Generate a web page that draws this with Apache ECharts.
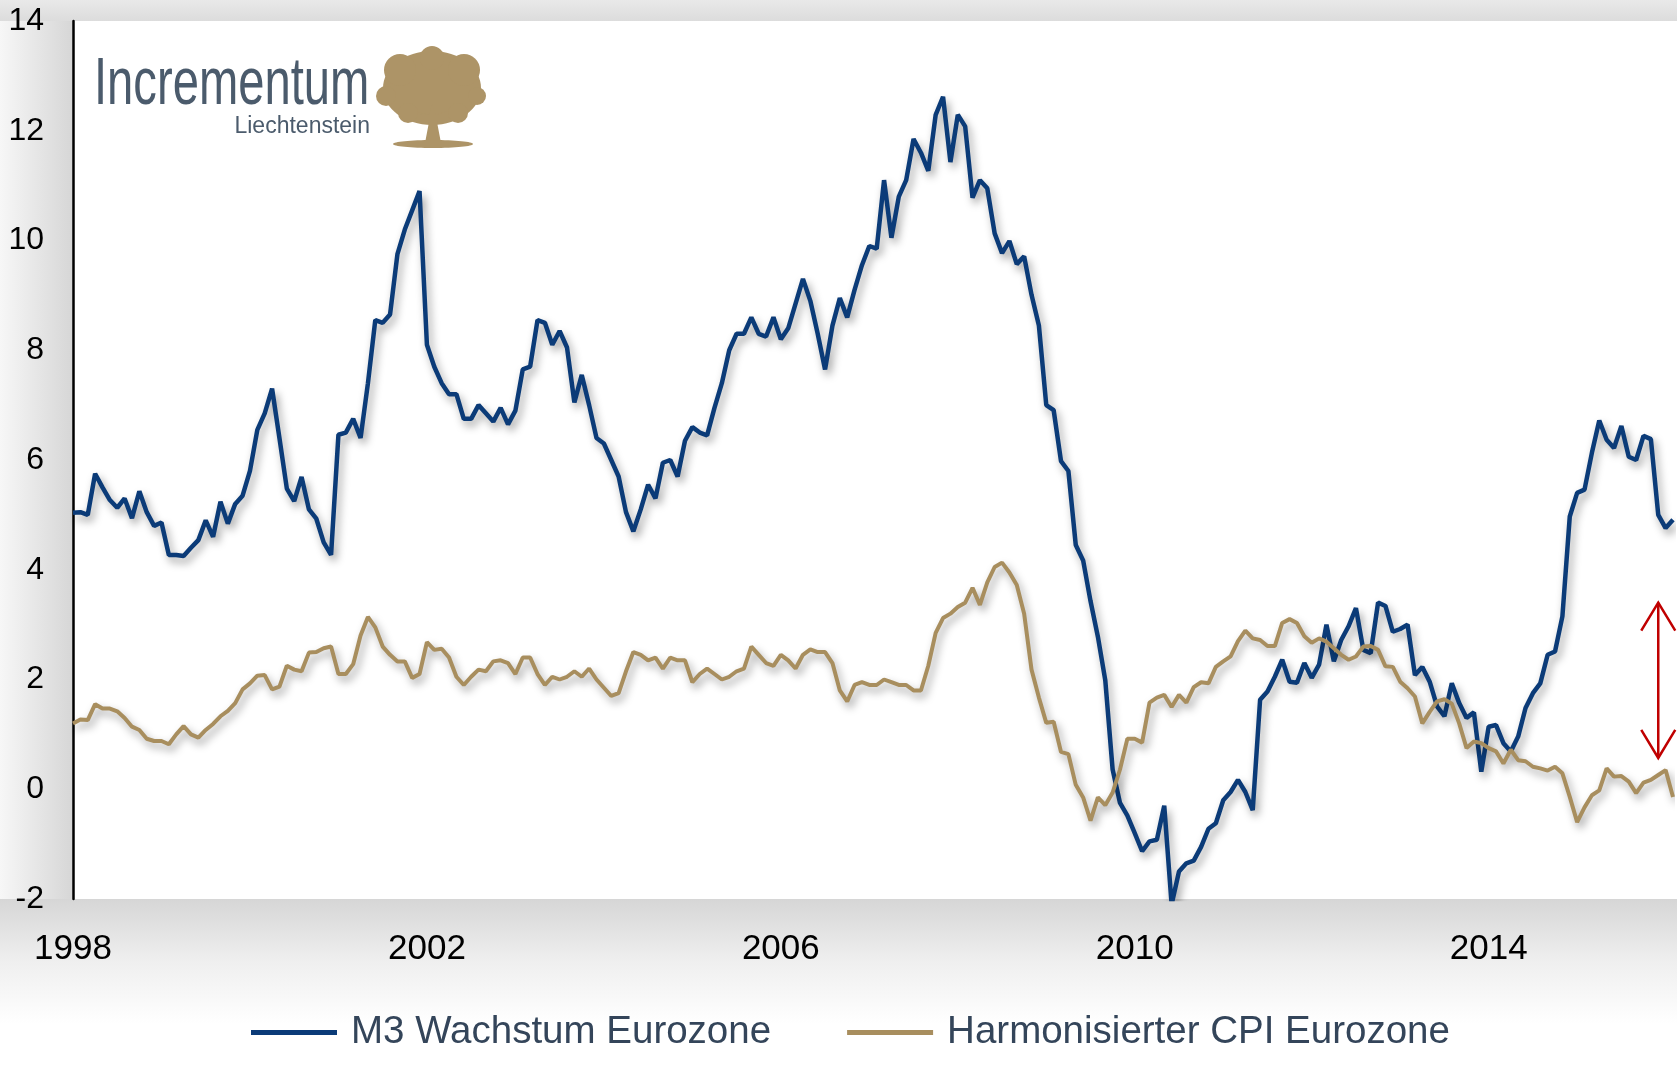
<!DOCTYPE html>
<html>
<head>
<meta charset="utf-8">
<script src="https://cdn.jsdelivr.net/npm/echarts@6/dist/echarts.min.js"></script>
<style>
html,body{margin:0;padding:0;background:#fff;}
#c{width:1677px;height:1065px;}
</style>
</head>
<body>
<div id="c"></div>
<script>
// ---- data (monthly, Jan 1998 - Feb 2016) ----
const startYear = 1998;
const nPoints = 218;
const months = [];
for (let i = 0; i < nPoints; i++) {
  const y = startYear + Math.floor(i / 12);
  const m = (i % 12) + 1;
  months.push(y + '-' + (m < 10 ? '0' + m : m));
}
const tickYears = ['1998', '2002', '2006', '2010', '2014'];

const m3Growth = [
  5.04, 5.05, 5.0, 5.75, 5.5, 5.27, 5.13, 5.3, 4.94, 5.43,
  5.05, 4.8, 4.86, 4.27, 4.27, 4.25, 4.4, 4.54, 4.9, 4.6,
  5.24, 4.84, 5.2, 5.35, 5.8, 6.55, 6.85, 7.3, 6.4, 5.48,
  5.25, 5.69, 5.1, 4.93, 4.5, 4.27, 6.46, 6.5, 6.75, 6.4,
  7.4, 8.55, 8.5, 8.65, 9.75, 10.2, 10.55, 10.9, 8.1, 7.7,
  7.4, 7.2, 7.2, 6.75, 6.75, 7.0, 6.85, 6.7, 6.95, 6.65,
  6.9, 7.65, 7.7, 8.55, 8.5, 8.1, 8.35, 8.05, 7.05, 7.55,
  7.0, 6.4, 6.3, 6.0, 5.7, 5.05, 4.7, 5.1, 5.55, 5.3,
  5.95, 6.0, 5.7, 6.35, 6.6, 6.5, 6.45, 6.95, 7.4, 8.0,
  8.3, 8.3, 8.6, 8.3, 8.25, 8.6, 8.2, 8.4, 8.85, 9.3,
  8.9, 8.3, 7.65, 8.45, 8.95, 8.6, 9.1, 9.55, 9.9, 9.85,
  11.1, 10.05, 10.8, 11.1, 11.85, 11.6, 11.27, 12.29, 12.62, 11.43,
  12.29, 12.08, 10.78, 11.1, 10.95, 10.13, 9.77, 9.99, 9.57, 9.71,
  9.01, 8.45, 7.0, 6.91, 5.98, 5.8, 4.45, 4.17, 3.43, 2.78,
  1.99, 0.36, -0.25, -0.48, -0.8, -1.13, -0.95, -0.92, -0.3, -2.1,
  -1.5, -1.35, -1.3, -1.05, -0.72, -0.62, -0.2, -0.05, 0.17, -0.05,
  -0.38, 1.63, 1.78, 2.05, 2.36, 1.96, 1.94, 2.3, 2.03, 2.27,
  3.0, 2.33, 2.72, 2.97, 3.3, 2.54, 2.48, 3.4, 3.34, 2.87,
  2.92, 3.0, 2.08, 2.23, 1.96, 1.51, 1.33, 1.93, 1.57, 1.3,
  1.4, 0.32, 1.14, 1.17, 0.84, 0.69, 0.96, 1.48, 1.75, 1.93,
  2.45, 2.51, 3.15, 4.97, 5.4, 5.46, 6.13, 6.72, 6.37, 6.22,
  6.62, 6.06, 6.0, 6.44, 6.38, 5.0, 4.76, 4.91
];

const hicp = [
  1.2, 1.27, 1.26, 1.55, 1.47, 1.47, 1.42, 1.3, 1.14, 1.08,
  0.92, 0.88, 0.88, 0.82, 1.0, 1.15, 1.0, 0.94, 1.08, 1.19,
  1.33, 1.43, 1.57, 1.82, 1.93, 2.07, 2.08, 1.82, 1.87, 2.25,
  2.18, 2.15, 2.49, 2.5, 2.57, 2.6, 2.1, 2.1, 2.28, 2.8,
  3.14, 2.95, 2.6, 2.45, 2.33, 2.33, 2.03, 2.1, 2.68, 2.54,
  2.56, 2.4, 2.05, 1.9, 2.05, 2.18, 2.15, 2.33, 2.35, 2.3,
  2.1, 2.4, 2.4, 2.1, 1.9, 2.05, 2.0, 2.05, 2.15, 2.05,
  2.2, 2.0, 1.85, 1.7, 1.75, 2.15, 2.5, 2.45, 2.35, 2.4,
  2.2, 2.4, 2.35, 2.35, 1.95, 2.1, 2.2, 2.1, 2.0, 2.05,
  2.15, 2.2, 2.6, 2.45, 2.3, 2.25, 2.45, 2.35, 2.2, 2.45,
  2.55, 2.5, 2.5, 2.3, 1.8, 1.6, 1.9, 1.95, 1.9, 1.9,
  2.0, 1.95, 1.9, 1.9, 1.8, 1.8, 2.25, 2.85, 3.12, 3.2,
  3.32, 3.4, 3.67, 3.36, 3.77, 4.05, 4.13, 3.95, 3.72, 3.2,
  2.18, 1.67, 1.21, 1.23, 0.68, 0.64, 0.08, -0.15, -0.57, -0.15,
  -0.29, -0.06, 0.36, 0.92, 0.92, 0.85, 1.58, 1.67, 1.72, 1.5,
  1.72, 1.58, 1.86, 1.95, 1.93, 2.23, 2.33, 2.42, 2.7, 2.89,
  2.75, 2.72, 2.61, 2.61, 3.03, 3.1, 3.03, 2.79, 2.67, 2.75,
  2.69, 2.57, 2.45, 2.36, 2.42, 2.6, 2.61, 2.54, 2.24, 2.23,
  1.96, 1.84, 1.69, 1.2, 1.41, 1.6, 1.64, 1.56, 1.2, 0.75,
  0.87, 0.84, 0.75, 0.69, 0.47, 0.72, 0.53, 0.51, 0.41, 0.38,
  0.34, 0.41, 0.29, -0.14, -0.6, -0.33, -0.11, -0.02, 0.38, 0.23,
  0.24, 0.14, -0.07, 0.12, 0.17, 0.26, 0.35, -0.14
];

const seriesNames = ['M3 Wachstum Eurozone', 'Harmonisierter CPI Eurozone'];
// annotation arrow (category index, value top, value bottom)
const arrowAt = [215, 3.4, 0.57];

// ---- chart ----
const GRID = {left: 73, right: 4, top: 21, bottom: 166};
const W = 1677, H = 1065;
const chart = echarts.init(document.getElementById('c'));
const FONT = 'Liberation Sans, Arial, sans-serif';

chart.setOption({
  animation: false,
  backgroundColor: '#ffffff',
  grid: Object.assign({containLabel: false}, GRID),
  legend: {
    left: 251,
    top: 1013,
    itemWidth: 86,
    itemHeight: 5,
    itemGap: 76,
    icon: 'rect',
    padding: 0,
    textStyle: {fontFamily: FONT, fontSize: 38.5, color: '#34455a', padding: [0, 0, 0, 9]},
    data: seriesNames
  },
  xAxis: {
    type: 'category',
    data: months,
    boundaryGap: false,
    axisLine: {show: false},
    axisTick: {show: false},
    splitLine: {show: false},
    axisLabel: {
      interval: function (i) { return i % 48 === 0; },
      formatter: function (v) { const y = v.slice(0, 4); return tickYears.indexOf(y) >= 0 ? y : ''; },
      fontFamily: FONT, fontSize: 35, color: '#000', margin: 33
    }
  },
  yAxis: {
    type: 'value',
    min: -2, max: 14, interval: 2,
    axisLine: {show: true, lineStyle: {color: '#000', width: 2.5}},
    axisTick: {show: false},
    splitLine: {show: false},
    axisLabel: {fontFamily: FONT, fontSize: 32, color: '#000', margin: 29}
  },
  series: [
    {
      name: seriesNames[0], type: 'line', data: m3Growth, symbol: 'none', color: '#0b3b78',
      lineStyle: {width: 4.5, color: '#0b3b78', shadowColor: 'rgba(0,0,0,0.38)', shadowBlur: 8, shadowOffsetX: 3, shadowOffsetY: 5},
      z: 3
    },
    {
      name: seriesNames[1], type: 'line', data: hicp, symbol: 'none', color: '#a88e5e',
      lineStyle: {width: 4, color: '#a88e5e', shadowColor: 'rgba(0,0,0,0.38)', shadowBlur: 8, shadowOffsetX: 3, shadowOffsetY: 5},
      z: 4
    }
  ]
});

// arrow position from the chart's own scales
const pTop = chart.convertToPixel({xAxisIndex: 0, yAxisIndex: 0}, [arrowAt[0], arrowAt[1]]);
const pBot = chart.convertToPixel({xAxisIndex: 0, yAxisIndex: 0}, [arrowAt[0], arrowAt[2]]);
const ax = pTop[0];
const red = '#c00000';
const headW = 17, headH = 28;

const plotBottom = H - GRID.bottom;
const treeColor = '#ad9467';

const elements = [
  // background shading outside the plot
  {type: 'rect', z: -10, silent: true, shape: {x: 0, y: 0, width: W, height: GRID.top},
   style: {fill: new echarts.graphic.LinearGradient(0, 0, 0, 1, [{offset: 0, color: '#e9e9e9'}, {offset: 1, color: '#dcdcdc'}])}},
  {type: 'rect', z: -10, silent: true, shape: {x: 0, y: GRID.top, width: GRID.left, height: plotBottom - GRID.top},
   style: {fill: new echarts.graphic.LinearGradient(0, 0, 1, 0, [{offset: 0, color: '#f7f7f7'}, {offset: 1, color: '#d6d6d6'}])}},
  {type: 'rect', z: -10, silent: true, shape: {x: 0, y: plotBottom, width: W, height: 125},
   style: {fill: new echarts.graphic.LinearGradient(0, 0, 0, 1, [{offset: 0, color: '#d6d6d6'}, {offset: 0.5, color: '#efefef'}, {offset: 1, color: '#ffffff'}])}},
  // logo text
  {type: 'text', z: 100, x: 94, y: 86, scaleX: 0.715, silent: true,
   style: {x: 0, y: 0, text: 'Incrementum', fontFamily: FONT, fontSize: 66, fill: '#4b5b6c', align: 'left', verticalAlign: 'middle'}},
  {type: 'text', z: 100, x: 370, y: 127, silent: true,
   style: {x: 0, y: 0, text: 'Liechtenstein', fontFamily: FONT, fontSize: 23, fill: '#4b5b6c', align: 'right', verticalAlign: 'middle'}},
  // tree logo
  {type: 'ellipse', z: 100, silent: true, shape: {cx: 432, cy: 88, rx: 49, ry: 37}, style: {fill: treeColor}},
  {type: 'circle', z: 100, silent: true, shape: {cx: 400, cy: 70, r: 16}, style: {fill: treeColor}},
  {type: 'circle', z: 100, silent: true, shape: {cx: 464, cy: 70, r: 16}, style: {fill: treeColor}},
  {type: 'circle', z: 100, silent: true, shape: {cx: 432, cy: 58, r: 12}, style: {fill: treeColor}},
  {type: 'circle', z: 100, silent: true, shape: {cx: 386, cy: 96, r: 10}, style: {fill: treeColor}},
  {type: 'circle', z: 100, silent: true, shape: {cx: 477, cy: 96, r: 9}, style: {fill: treeColor}},
  {type: 'circle', z: 100, silent: true, shape: {cx: 408, cy: 113, r: 10}, style: {fill: treeColor}},
  {type: 'circle', z: 100, silent: true, shape: {cx: 458, cy: 113, r: 10}, style: {fill: treeColor}},
  {type: 'polygon', z: 100, silent: true,
   shape: {points: [[425, 143], [429, 122], [418, 112], [429, 115], [432, 104], [436, 115], [447, 111], [437, 122], [441, 143]]},
   style: {fill: treeColor}},
  {type: 'ellipse', z: 100, silent: true, shape: {cx: 433, cy: 144, rx: 40, ry: 4}, style: {fill: treeColor}},
  // red double arrow
  {type: 'line', z: 100, silent: true, shape: {x1: ax, y1: pTop[1], x2: ax, y2: pBot[1]}, style: {stroke: red, lineWidth: 2.5}},
  {type: 'polyline', z: 100, silent: true, shape: {points: [[ax - headW, pTop[1] + headH], [ax, pTop[1]], [ax + headW, pTop[1] + headH]]}, style: {stroke: red, lineWidth: 2.5, fill: null}},
  {type: 'polyline', z: 100, silent: true, shape: {points: [[ax - headW, pBot[1] - headH], [ax, pBot[1]], [ax + headW, pBot[1] - headH]]}, style: {stroke: red, lineWidth: 2.5, fill: null}}
];

chart.setOption({graphic: {elements: elements}});
</script>
</body>
</html>
